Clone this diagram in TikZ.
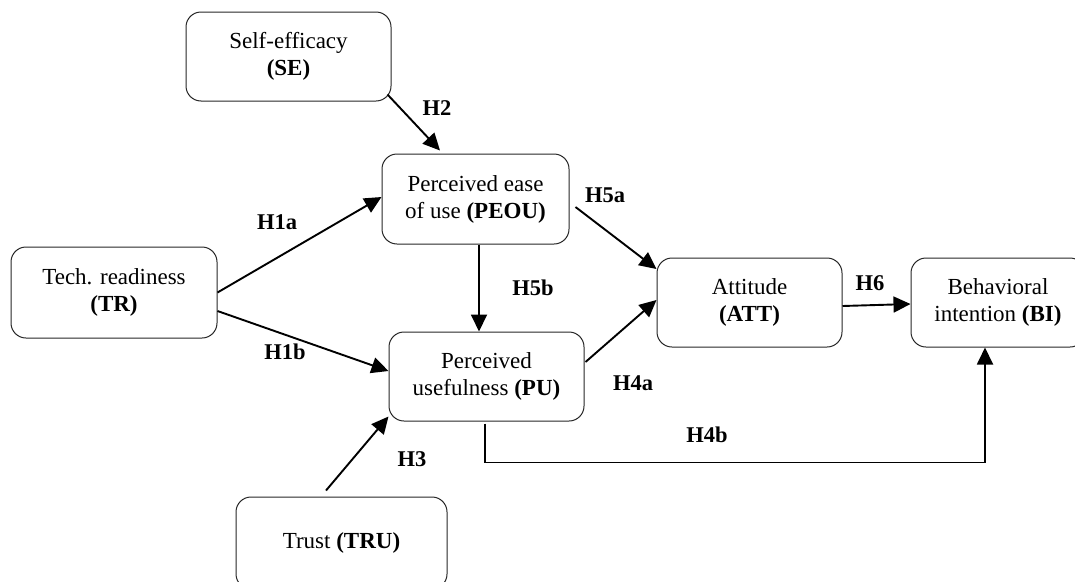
\documentclass[tikz,border=0pt]{standalone}
\usepackage{fontspec}
\setmainfont{Liberation Serif}
\usetikzlibrary{arrows.meta,calc}
\tikzset{
  box/.style={draw=black!85, line width=1pt, rounded corners=15pt, align=center,
    font=\fontsize{23}{27}\selectfont, inner sep=0pt},
  arr/.style={line width=1.9pt, -{Triangle[length=17pt,width=16pt]}},
  hlab/.style={font=\fontsize{22.5}{26}\selectfont\bfseries, inner sep=0pt}
}
\begin{document}
\begin{tikzpicture}[x=1pt,y=-1pt]
\useasboundingbox (0,0) rectangle (1075,581);
\clip (0,0) rectangle (1075,581);
% boxes
\node[box, minimum width=205pt, minimum height=89pt] (SE) at (288.5,56.5) {Self-efficacy\\\textbf{(SE)}};
\node[box, minimum width=187pt, minimum height=90pt] (PEOU) at (475.5,199) {Perceived ease\\of use \textbf{(PEOU)}};
\node[box, minimum width=206pt, minimum height=91pt] (TR) at (114,292.5) {Tech. readiness\\\textbf{(TR)}};
\node[box, minimum width=195pt, minimum height=89pt] (PU) at (486.5,376.5) {Perceived\\usefulness \textbf{(PU)}};
\node[box, minimum width=185pt, minimum height=89pt] (ATT) at (749.5,302.5) {Attitude\\\textbf{(ATT)}};
\node[box, minimum width=174pt, minimum height=89pt] (BI) at (998,302.5) {Behavioral\\intention \textbf{(BI)}};
\node[box, minimum width=211pt, minimum height=92pt] (TRU) at (341.5,543) {Trust \textbf{(TRU)}};
% connectors
\draw[arr] (TR.east) -- ($(PEOU.west)+(0,-2)$);
\draw[arr] ($(TR.east)+(0,18.5)$) -- ($(PU.west)+(0,-5.5)$);
\draw[arr] ($(SE.south east)+(-4,-7)$) -- ($(PEOU.north)+(-35.5,-3)$);
\draw[arr] ($(TRU.north)+(-15.5,-6)$) -- ($(PU.south west)+(0,-5)$);
\draw[arr] ($(PEOU.south)+(3.5,0)$) -- ($(PU.north)+(-7.5,0)$);
\draw[arr] ($(PEOU.east)+(6,8)$) -- ($(ATT.west)+(0,-33.5)$);
\draw[arr] ($(PU.east)+(1,-14.5)$) -- ($(ATT.west)+(0,-2.5)$);
\draw[arr] ($(ATT.east)+(0,3.5)$) -- ($(BI.west)+(0,1.5)$);
\draw[arr] ($(PU.south)+(-1.5,2)$) |- ($(BI.south)+(-13,115)$) -- ($(BI.south)+(-13,0)$);
% labels
\node[hlab] (l1a) at (277,222) {H1a};
\node[hlab] (l1b) at (285,352) {H1b};
\node[hlab] (l2) at (437,108) {H2};
\node[hlab] (l3) at (412,459) {H3};
\node[hlab] (l5a) at (605,195) {H5a};
\node[hlab] (l5b) at (533,288) {H5b};
\node[hlab] (l4a) at (633,383) {H4a};
\node[hlab] (l4b) at (707,435) {H4b};
\node[hlab] (l6) at (870,283) {H6};
\end{tikzpicture}
\end{document}
